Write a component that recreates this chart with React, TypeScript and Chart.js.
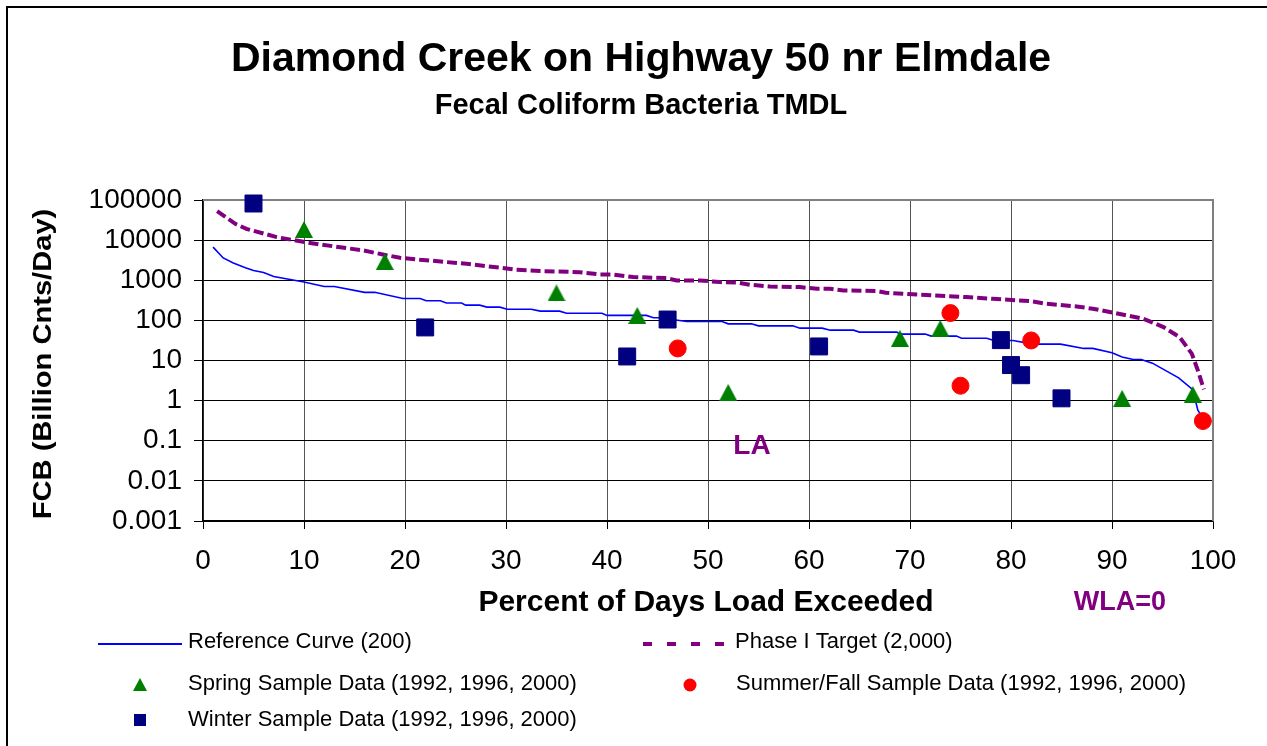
import React, { useEffect, useRef } from 'react';
import { Chart, registerables } from 'chart.js';

Chart.register(...registerables);

const FONT = '"Liberation Sans", Arial, Helvetica, sans-serif';

const titleText = 'Diamond Creek on Highway 50 nr Elmdale';
const subtitleText = 'Fecal Coliform Bacteria TMDL';
const xAxisTitle = 'Percent of Days Load Exceeded';
const yAxisTitle = 'FCB (Billion Cnts/Day)';
const laLabel = 'LA';
const wlaLabel = 'WLA=0';

const seriesNames = [
  'Reference Curve (200)',
  'Phase I Target (2,000)',
  'Spring Sample Data (1992, 1996, 2000)',
  'Summer/Fall Sample Data (1992, 1996, 2000)',
  'Winter Sample Data (1992, 1996, 2000)',
];

const xTickValues = [0, 10, 20, 30, 40, 50, 60, 70, 80, 90, 100];
const yTickValues = [0.001, 0.01, 0.1, 1, 10, 100, 1000, 10000, 100000];
const yTickLabels = ['0.001', '0.01', '0.1', '1', '10', '100', '1000', '10000', '100000'];

// Reference curve (200)
const refX = [1, 2, 3, 4.2, 5, 6, 7, 10, 12, 13, 16, 17, 19.8, 21.5, 22.1, 23.5, 24.1, 25.6, 26, 27.4,
  28.1, 29.4, 30.1, 32.5, 33.4, 35.3, 36, 39.5, 40, 43.9, 44.6, 45.2, 47.9, 51.4, 52, 54.3, 55, 58.4, 59.1, 61.3,
  62.1, 64.4, 65, 68.7, 69, 71.5, 72.1, 74.6, 75.1, 77.6, 78.3, 80.2, 82.2, 84.9, 87.2, 88.1, 90, 91, 92.1, 92.9,
  94, 96.6, 98, 98.5, 98.9];
const refY = [6700, 3600, 2700, 2050, 1750, 1560, 1240, 900, 700, 700, 500, 500, 350, 350, 308, 308, 270, 270, 240, 240,
  214, 214, 190, 190, 170, 170, 151, 151, 133, 133, 116, 116, 94, 94, 82, 82, 73, 73, 64, 64,
  57, 57, 51, 51, 45.5, 45.5, 40.5, 40.5, 36, 36, 31.6, 31.6, 25.6, 25.6, 20, 20, 15.6, 12.2, 10.6, 10.6,
  8.6, 3.7, 1.87, 0.58, 0.4];

// Phase I Target (2,000)
const tgtX = [1.4, 3.2, 4.3, 7.3, 10.1, 11.6, 15.9, 17.8, 19.5, 21.5, 22.5, 23.8, 26.1, 29.4, 31, 33.4, 37.3, 39.3, 40.6, 42.6,
  45.9, 46.9, 49.2, 51.2, 52.8, 54.2, 56.1, 59.1, 60.8, 62.1, 63.4, 66.7, 67.6, 69.3, 72.3, 75.6, 78.2, 81.9, 83.5, 86.5,
  88.1, 90.4, 93.1, 95.1, 96.7, 97.9, 98.5, 99.1];
const tgtY = [52600, 25500, 19100, 11900, 8900, 7800, 5520, 4390, 3630, 3240, 3110, 2880, 2570, 2050, 1830, 1690, 1590, 1390, 1390, 1200,
  1130, 990, 990, 900, 880, 770, 700, 675, 614, 614, 557, 537, 488, 460, 418, 380, 345, 302, 260, 222,
  195, 151, 110, 68, 38, 14.8, 5.7, 1.9];

const springX = [10, 18, 35, 43, 52, 69, 73, 91, 98];
const springY = [18400, 2940, 483, 133, 1.6, 35.5, 63, 1.14, 1.43];

const summerX = [47, 74, 75, 82, 99];
const summerY = [20, 152, 2.35, 31.6, 0.31];

const winterX = [5, 22, 42, 46, 61, 79, 80, 81, 85];
const winterY = [81800, 66.7, 12.6, 105, 22.4, 32.2, 7.7, 4.3, 1.14];

const BLUE = '#0000FF';
const PURPLE = '#800080';
const GREEN = '#008000';
const RED = '#FF0000';
const NAVY = '#000080';

const toPoints = (xs: number[], ys: number[]) => xs.map((x, i) => ({ x, y: ys[i] }));

function makeTriangle(w: number, h: number, color: string) {
  const c = document.createElement('canvas');
  c.width = w;
  c.height = h;
  const g = c.getContext('2d')!;
  g.fillStyle = color;
  g.beginPath();
  g.moveTo(w / 2, 0);
  g.lineTo(w, h);
  g.lineTo(0, h);
  g.closePath();
  g.fill();
  return c;
}

const decorPlugin = {
  id: 'decor',
  beforeDraw(chart: any) {
    const ctx = chart.ctx;
    ctx.save();
    ctx.strokeStyle = '#000';
    ctx.lineWidth = 2;
    ctx.beginPath();
    ctx.moveTo(7, 760);
    ctx.lineTo(7, 7);
    ctx.lineTo(1280, 7);
    ctx.stroke();
    ctx.restore();
  },
  beforeDatasetsDraw(chart: any) {
    const ctx = chart.ctx;
    const a = chart.chartArea;
    ctx.save();
    ctx.strokeStyle = '#808080';
    ctx.lineWidth = 2;
    ctx.beginPath();
    ctx.moveTo(a.left, a.top);
    ctx.lineTo(a.right, a.top);
    ctx.lineTo(a.right, a.bottom);
    ctx.stroke();
    ctx.restore();
  },
  afterDraw(chart: any) {
    const ctx = chart.ctx;
    ctx.save();
    ctx.fillStyle = '#000';
    ctx.textAlign = 'center';
    ctx.textBaseline = 'middle';
    ctx.font = `bold 41px ${FONT}`;
    ctx.fillText(titleText, 641, 60);
    ctx.font = `bold 29px ${FONT}`;
    ctx.fillText(subtitleText, 641, 106);

    ctx.font = `bold 30px ${FONT}`;
    ctx.fillText(xAxisTitle, 706, 603);

    ctx.save();
    ctx.translate(44, 364);
    ctx.rotate(-Math.PI / 2);
    ctx.scale(1.12, 1);
    ctx.font = `bold 26px ${FONT}`;
    ctx.fillText(yAxisTitle, 0, 0);
    ctx.restore();

    ctx.fillStyle = PURPLE;
    ctx.font = `bold 28px ${FONT}`;
    ctx.fillText(laLabel, 752, 446);
    ctx.font = `bold 27px ${FONT}`;
    ctx.fillText(wlaLabel, 1120, 603);

    // legend
    ctx.textAlign = 'left';
    ctx.fillStyle = '#000';
    ctx.font = `22px ${FONT}`;
    // reference curve
    ctx.strokeStyle = BLUE;
    ctx.lineWidth = 2;
    ctx.beginPath();
    ctx.moveTo(98, 644);
    ctx.lineTo(182, 644);
    ctx.stroke();
    ctx.fillText(seriesNames[0], 188, 642);
    // phase I target
    ctx.strokeStyle = PURPLE;
    ctx.lineWidth = 4;
    ctx.setLineDash([9, 15]);
    ctx.beginPath();
    ctx.moveTo(643, 644);
    ctx.lineTo(728, 644);
    ctx.stroke();
    ctx.setLineDash([]);
    ctx.fillText(seriesNames[1], 735, 642);
    // spring
    ctx.fillStyle = GREEN;
    ctx.beginPath();
    ctx.moveTo(140, 678);
    ctx.lineTo(147, 691);
    ctx.lineTo(133, 691);
    ctx.closePath();
    ctx.fill();
    ctx.fillStyle = '#000';
    ctx.fillText(seriesNames[2], 188, 684);
    // summer/fall
    ctx.fillStyle = RED;
    ctx.beginPath();
    ctx.arc(690, 685, 6.5, 0, Math.PI * 2);
    ctx.fill();
    ctx.fillStyle = '#000';
    ctx.fillText(seriesNames[3], 736, 684);
    // winter
    ctx.fillStyle = NAVY;
    ctx.fillRect(134, 714, 12, 12);
    ctx.fillStyle = '#000';
    ctx.fillText(seriesNames[4], 188, 720);
    ctx.restore();
  },
};

export default function App() {
  const ref = useRef<HTMLCanvasElement>(null);
  useEffect(() => {
    const tri = makeTriangle(18, 17, GREEN);
    const chart = new Chart(ref.current as HTMLCanvasElement, {
      type: 'scatter',
      data: {
        datasets: [
          {
            label: seriesNames[2],
            data: toPoints(springX, springY),
            pointStyle: tri as any,
            pointRadius: 9,
            backgroundColor: GREEN,
            borderColor: GREEN,
            clip: false as any,
            order: 0,
          },
          {
            label: seriesNames[3],
            data: toPoints(summerX, summerY),
            pointStyle: 'circle',
            pointRadius: 8.5,
            pointBorderWidth: 1,
            backgroundColor: RED,
            borderColor: RED,
            clip: false as any,
            order: 0,
          },
          {
            label: seriesNames[4],
            data: toPoints(winterX, winterY),
            pointStyle: 'rect',
            pointRadius: 12,
            pointBorderWidth: 1,
            backgroundColor: NAVY,
            borderColor: NAVY,
            clip: false as any,
            order: 0,
          },
          {
            label: seriesNames[0],
            data: toPoints(refX, refY),
            showLine: true,
            pointRadius: 0,
            borderColor: BLUE,
            borderWidth: 1.6,
            fill: false,
            tension: 0,
            order: 1,
          },
          {
            label: seriesNames[1],
            data: toPoints(tgtX, tgtY),
            showLine: true,
            pointRadius: 0,
            borderColor: PURPLE,
            borderWidth: 4,
            borderDash: [10, 4],
            fill: false,
            tension: 0,
            order: 2,
          },
        ],
      },
      options: {
        responsive: false,
        animation: false,
        devicePixelRatio: 1,
        layout: { padding: { left: 53, right: 54, top: 200, bottom: 165 } },
        plugins: {
          legend: { display: false },
          tooltip: { enabled: false },
          title: { display: false },
        },
        events: [],
        scales: {
          x: {
            type: 'linear',
            min: 0,
            max: 100,
            afterBuildTicks: (s: any) => {
              s.ticks = xTickValues.map((v) => ({ value: v }));
            },
            afterFit: (s: any) => {
              s.height = 60;
            },
            ticks: {
              font: { family: FONT, size: 28 },
              color: '#000',
              padding: 15,
              maxRotation: 0,
              autoSkip: false,
            },
            grid: { color: '#555', lineWidth: 1, tickLength: 8, tickColor: '#000' },
            border: { color: '#000', width: 1.5 },
          },
          y: {
            type: 'logarithmic',
            min: 0.001,
            max: 100000,
            afterBuildTicks: (s: any) => {
              s.ticks = yTickValues.map((v) => ({ value: v }));
            },
            afterFit: (s: any) => {
              s.width = 150;
            },
            ticks: {
              callback: (_v: any, i: number) => yTickLabels[i],
              font: { family: FONT, size: 28 },
              color: '#000',
              padding: 12,
              autoSkip: false,
            },
            grid: { color: '#000', lineWidth: 1, tickLength: 9, tickColor: '#000' },
            border: { color: '#000', width: 1.5 },
          },
        },
      } as any,
      plugins: [decorPlugin],
    });
    return () => chart.destroy();
  }, []);
  return (
    <div style={{ position: 'fixed', left: 0, top: 0, width: 1267, height: 746, background: '#fff', overflow: 'hidden' }}>
      <canvas ref={ref} width={1267} height={746} style={{ display: 'block' }} />
    </div>
  );
}
